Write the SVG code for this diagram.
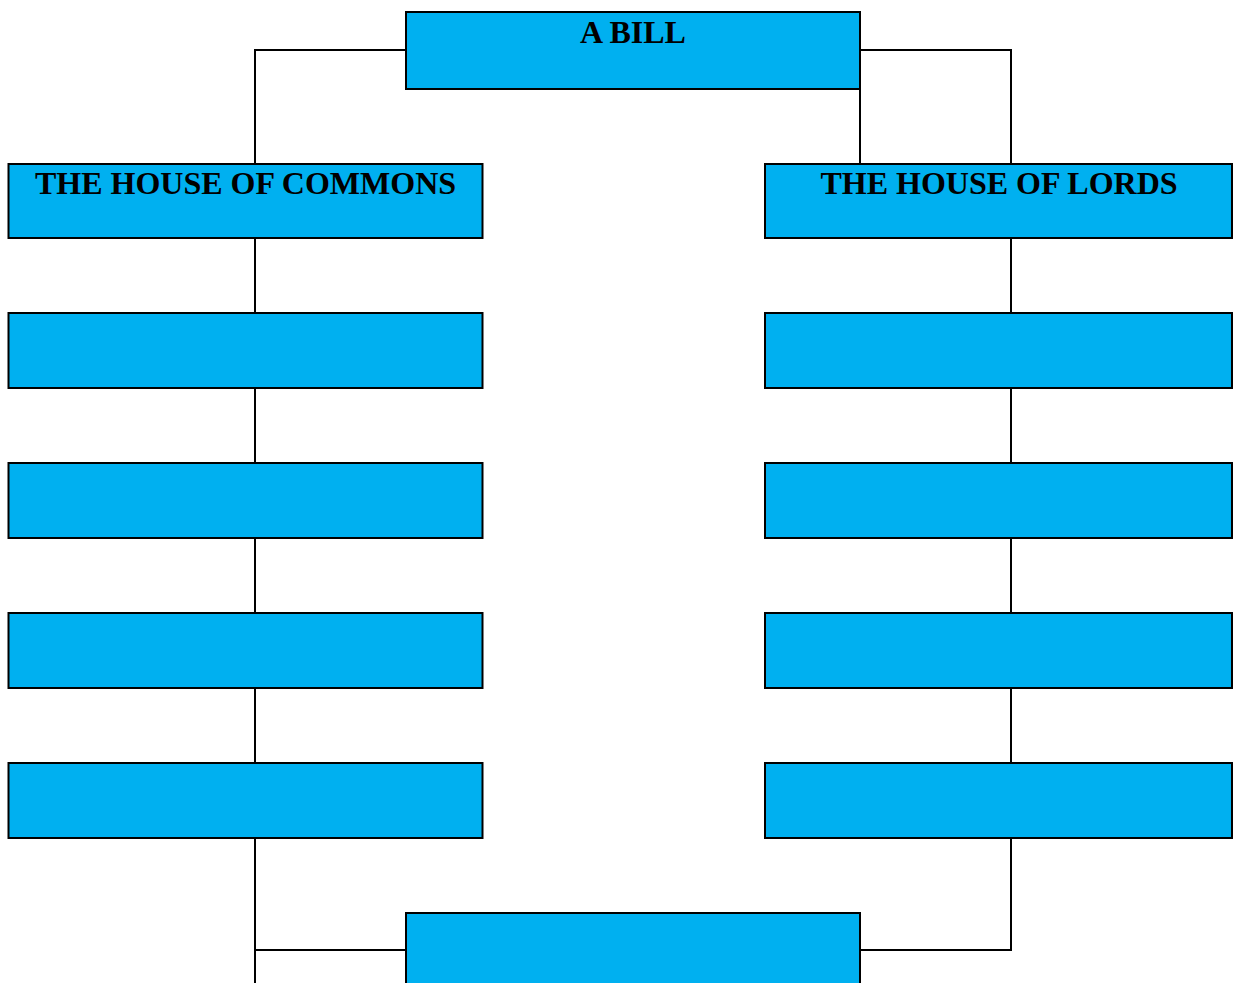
<svg xmlns="http://www.w3.org/2000/svg" width="1233" height="983" viewBox="0 0 1233 983">
<style>
.box{fill:#00B0F0;stroke:#000;stroke-width:2}
.lbl{font-family:"Liberation Serif","Times New Roman",serif;font-weight:bold;font-size:32px;fill:#000;text-anchor:middle}
.conn{fill:none;stroke:#000;stroke-width:2}
</style>
<rect width="1233" height="983" fill="#fff"/>
<g id="connectors">
<path class="conn" d="M406,50 H255 V164"/>
<path class="conn" d="M860,50 H1011 V164"/>
<path class="conn" d="M860,89 V164"/>
<path class="conn" d="M255,238 V313 M255,388 V463 M255,538 V613 M255,688 V763 M255,838 V983"/>
<path class="conn" d="M1011,238 V313 M1011,388 V463 M1011,538 V613 M1011,688 V763"/>
<path class="conn" d="M255,950 H406"/>
<path class="conn" d="M1011,838 V950 H860"/>
</g>
<g id="bill"><rect class="box" x="406" y="12" width="454" height="77"/><text class="lbl" x="633" y="43">A BILL</text></g>
<g id="commons"><rect class="box" x="8.5" y="164" width="474" height="74"/><text class="lbl" x="245.5" y="194">THE HOUSE OF COMMONS</text></g>
<g id="lords"><rect class="box" x="765" y="164" width="467" height="74"/><text class="lbl" x="999" y="194">THE HOUSE OF LORDS</text></g>
<g id="c2"><rect class="box" x="8.5" y="313" width="474" height="75"/></g>
<g id="c3"><rect class="box" x="8.5" y="463" width="474" height="75"/></g>
<g id="c4"><rect class="box" x="8.5" y="613" width="474" height="75"/></g>
<g id="c5"><rect class="box" x="8.5" y="763" width="474" height="75"/></g>
<g id="l2"><rect class="box" x="765" y="313" width="467" height="75"/></g>
<g id="l3"><rect class="box" x="765" y="463" width="467" height="75"/></g>
<g id="l4"><rect class="box" x="765" y="613" width="467" height="75"/></g>
<g id="l5"><rect class="box" x="765" y="763" width="467" height="75"/></g>
<g id="final"><rect class="box" x="406" y="913" width="454" height="80"/></g>
</svg>
